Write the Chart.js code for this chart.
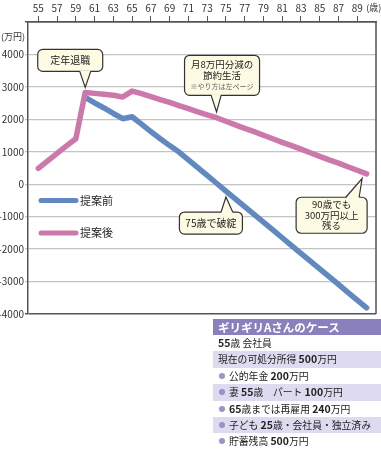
<!DOCTYPE html>
<html lang="ja">
  <head>
    <meta charset="UTF-8" />
    <title>ギリギリAさんのケース</title>
    <script src="https://cdn.jsdelivr.net/npm/chart.js@4/dist/chart.umd.min.js"></script>
    <style>
      body { margin: 0; background: #fff; font-family: "Noto Sans CJK JP", sans-serif; }
      #wrap { position: relative; width: 381px; height: 450px; overflow: hidden; }
      #case { position: absolute; left: 213px; top: 319px; width: 168px; font-size: 9.8px; color: #222; }
      #case .head { background: #8a80bd; color: #fff; font-weight: bold; font-size: 11.5px; height: 16px; line-height: 16px; padding-left: 5px; }
      #case .row { height: 16.4px; line-height: 16.4px; padding-left: 5px; white-space: nowrap; overflow: hidden; }
      #case .alt { background: #dedaf0; }
      #case b { font-size: 10.5px; }
      #case .dot { display: inline-block; width: 6px; height: 6px; border-radius: 50%; background: #9a92c9; margin: 0 4px 1px 1px; }
    </style>
  </head>
  <body>
    <div id="wrap">
      <canvas id="myChart" width="381" height="450"></canvas>
      <div id="case">
        <div class="head">ギリギリAさんのケース</div>
        <div class="row"><b>55</b>歳 会社員</div>
        <div class="row alt">現在の可処分所得 <b>500</b>万円</div>
        <div class="row"><span class="dot"></span>公的年金 <b>200</b>万円</div>
        <div class="row alt"><span class="dot"></span>妻 <b>55</b>歳　パート <b>100</b>万円</div>
        <div class="row"><span class="dot"></span><b>65</b>歳までは再雇用 <b>240</b>万円</div>
        <div class="row alt"><span class="dot"></span>子ども <b>25</b>歳・会社員・独立済み</div>
        <div class="row"><span class="dot"></span>貯蓄残高 <b>500</b>万円</div>
      </div>
    </div>
    <script>
      // 年齢（歳）
      var afterAges = [55, 56, 57, 58, 59, 60, 61, 62, 63, 64, 65, 66, 67, 68, 69, 70, 71, 72,
        73, 74, 75, 76, 77, 78, 79, 80, 81, 82, 83, 84, 85, 86, 87, 88, 89, 90];
      // 提案後（万円）
      var afterValues = [490, 720, 950, 1180, 1400, 2830, 2800, 2770, 2740, 2690, 2870, 2790, 2700,
        2610, 2520, 2420, 2330, 2230, 2140, 2050, 1940, 1830, 1720, 1620, 1510, 1400, 1290, 1190,
        1080, 970, 860, 750, 650, 540, 430, 320];
      var beforeAges = [60, 61, 62, 63, 64, 65, 66, 67, 68, 69, 70, 71, 72, 73, 74, 75, 76, 77,
        78, 79, 80, 81, 82, 83, 84, 85, 86, 87, 88, 89, 90];
      // 提案前（万円）
      var beforeValues = [2680, 2510, 2350, 2180, 2020, 2080, 1850, 1620, 1400, 1190, 990, 750, 510,
        270, 30, -210, -450, -690, -930, -1170, -1410, -1650, -1890, -2130, -2370, -2610, -2850,
        -3090, -3330, -3570, -3810];
      var xTicks = [55, 57, 59, 61, 63, 65, 67, 69, 71, 73, 75, 77, 79, 81, 83, 85, 87, 89];

      var blue = "#6288c2";
      var pink = "#cc78aa";
      var font = '"Noto Sans CJK JP", sans-serif';

      function pts(ages, vals) {
        return ages.map(function (a, i) { return { x: a, y: vals[i] }; });
      }

      // 吹き出し（アンカーは系列の点、箱は点からのずれ）
      var callouts = [
        { set: 0, age: 60, lines: ["定年退職"], box: [-47.5, -43, 65, 22], base: [-5.5, 5.5], tip: [0, -5], edge: "bottom" },
        { set: 0, age: 74, lines: ["月8万円分減の", "節約生活", "※やり方は左ページ"], box: [-32, -62.4, 75, 40], base: [-5.4, 4.6], tip: [0, -5.7], edge: "bottom" },
        { set: 1, age: 75, lines: ["75歳で破綻"], box: [-46.5, 21, 63, 22], base: [-4.8, 6.8], tip: [0, 6], edge: "top" },
        { set: 0, age: 90, lines: ["90歳でも", "300万円以上", "残る"], box: [-70.5, 23.4, 71, 36], base: [-20.8, -7.5], tip: [-4.5, 4.7], edge: "top" }
      ];

      function roundRect(ctx, x, y, w, h, r) {
        ctx.beginPath();
        ctx.moveTo(x + r, y);
        ctx.arcTo(x + w, y, x + w, y + h, r);
        ctx.arcTo(x + w, y + h, x, y + h, r);
        ctx.arcTo(x, y + h, x, y, r);
        ctx.arcTo(x, y, x + w, y, r);
        ctx.closePath();
      }

      var extras = {
        id: "extras",
        afterDatasetsDraw: function (chart) {
          var ctx = chart.ctx;
          var a = chart.chartArea;
          var xs = chart.scales.x, ys = chart.scales.y;
          ctx.save();
          // 右枠
          ctx.strokeStyle = "#555";
          ctx.lineWidth = 1.5;
          ctx.beginPath();
          ctx.moveTo(a.right, a.top);
          ctx.lineTo(a.right, a.bottom);
          ctx.stroke();

          // 単位
          ctx.fillStyle = "#333";
          ctx.font = "9px " + font;
          ctx.textAlign = "left";
          ctx.textBaseline = "middle";
          ctx.fillText("(万円)", 1, ys.getPixelForValue(4500) - 2);
          ctx.fillText("(歳)", xs.getPixelForValue(89) + 9, 8);

          // 凡例
          var leg = [[blue, "提案前", -500], [pink, "提案後", -1500]];
          leg.forEach(function (l) {
            var y = ys.getPixelForValue(l[2]);
            ctx.strokeStyle = l[0];
            ctx.lineWidth = 5;
            ctx.lineCap = "round";
            ctx.beginPath();
            ctx.moveTo(a.left + 13, y);
            ctx.lineTo(a.left + 48, y);
            ctx.stroke();
            ctx.fillStyle = "#222";
            ctx.font = "11px " + font;
            ctx.fillText(l[1], a.left + 52, y);
          });

          // 吹き出し
          callouts.forEach(function (c) {
            var ds = c.set === 0 ? [afterAges, afterValues] : [beforeAges, beforeValues];
            var idx = ds[0].indexOf(c.age);
            var px = xs.getPixelForValue(c.age), py = ys.getPixelForValue(ds[1][idx]);
            var bx = px + c.box[0], by = py + c.box[1], bw = c.box[2], bh = c.box[3];
            var ey = c.edge === "bottom" ? by + bh : by;
            var tx = px + c.tip[0], ty = py + c.tip[1];
            ctx.lineCap = "butt";
            ctx.lineWidth = 1.2;
            ctx.strokeStyle = "#333";
            ctx.fillStyle = "#fdfbe4";
            roundRect(ctx, bx, by, bw, bh, 5);
            ctx.fill();
            ctx.stroke();
            var inset = c.edge === "bottom" ? -1 : 1;
            ctx.beginPath();
            ctx.moveTo(px + c.base[0], ey + inset);
            ctx.lineTo(tx, ty);
            ctx.lineTo(px + c.base[1], ey + inset);
            ctx.closePath();
            ctx.fill();
            ctx.beginPath();
            ctx.moveTo(px + c.base[0], ey);
            ctx.lineTo(tx, ty);
            ctx.lineTo(px + c.base[1], ey);
            ctx.stroke();
            ctx.textAlign = "center";
            var n = c.lines.length;
            var lh = 10.5;
            var cy = by + bh / 2 - (n - 1) * lh / 2;
            c.lines.forEach(function (t, i) {
              var note = t.charAt(0) === "※";
              ctx.font = (note ? "7px " : (n > 1 ? "9.5px " : "10px ")) + font;
              ctx.fillStyle = note ? "#666" : "#222";
              ctx.fillText(t, bx + bw / 2, cy + i * lh + (note ? 0.5 : 0));
            });
          });
          ctx.restore();
        }
      };

      new Chart(document.getElementById("myChart"), {
        type: "line",
        data: {
          datasets: [
            { label: "提案後", data: pts(afterAges, afterValues), borderColor: pink, backgroundColor: pink },
            { label: "提案前", data: pts(beforeAges, beforeValues), borderColor: blue, backgroundColor: blue }
          ]
        },
        options: {
          responsive: false,
          animation: false,
          layout: { padding: { left: 0, top: 0, right: 5, bottom: 136 } },
          elements: {
            point: { radius: 0 },
            line: { borderWidth: 5.5, tension: 0, borderCapStyle: "round", borderJoinStyle: "round" }
          },
          plugins: { legend: { display: false }, tooltip: { enabled: false } },
          scales: {
            x: {
              type: "linear",
              position: "top",
              min: 53.9,
              max: 91,
              afterBuildTicks: function (scale) {
                scale.ticks = xTicks.map(function (v) { return { value: v }; });
              },
              afterFit: function (scale) { scale.height = 22; },
              grid: { drawOnChartArea: false, drawTicks: true, tickLength: 6, color: "#555", lineWidth: 1 },
              border: { display: true, color: "#555", width: 1.5 },
              ticks: { color: "#333", font: { size: 10, family: font }, padding: 2, maxRotation: 0, autoSkip: false }
            },
            y: {
              min: -4000,
              max: 5000,
              afterFit: function (scale) { scale.width = 28; },
              ticks: {
                stepSize: 1000,
                color: "#333",
                padding: 1,
                font: { size: 10, family: font },
                callback: function (v) { return v === 5000 ? "" : v; }
              },
              grid: {
                tickLength: 3,
                lineWidth: function (c) { return c.tick && (c.tick.value === -4000 || c.tick.value === 5000) ? 1.5 : 1.3; },
                color: function (c) { return c.tick && (c.tick.value === -4000 || c.tick.value === 5000) ? "#555" : "#c4c4c4"; }
              },
              border: { display: true, color: "#555", width: 1.5 }
            }
          }
        },
        plugins: [extras]
      });
    </script>
  </body>
</html>
